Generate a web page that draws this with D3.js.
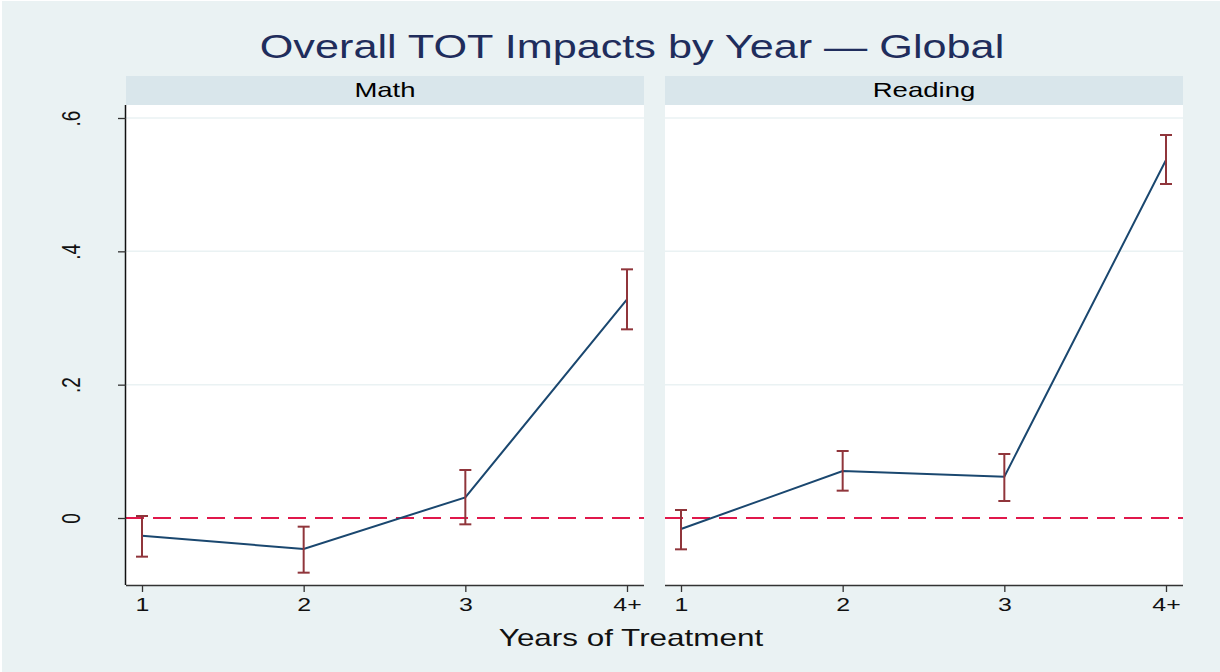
<!DOCTYPE html>
<html><head><meta charset="utf-8">
<script src="https://cdn.jsdelivr.net/npm/d3@7"></script>
<style>body{margin:0;background:#fff}svg{display:block}text{font-family:"Liberation Sans",Arial,sans-serif}</style>
</head><body><svg id="c" width="1220" height="672"></svg>
<script>
const categories = ["1","2","3","4+"];
const panels = ["Math","Reading"];
const mathEst = [-0.0265,-0.0465,0.031,0.328];
const mathLo  = [-0.058,-0.082,-0.0095,0.283];
const mathHi  = [0.003,-0.013,0.072,0.373];
const readEst = [-0.0165,0.0705,0.062,0.537];
const readLo  = [-0.047,0.041,0.0255,0.501];
const readHi  = [0.012,0.1005,0.096,0.5745];
const yTicks = [0,0.2,0.4,0.6];
const yTickLabels = ["0",".2",".4",".6"];
const title = "Overall TOT Impacts by Year — Global";
const xTitle = "Years of Treatment";

const SX = 1.31; // horizontal stretch of the original graphic
const stretch = (cx,cy)=>`translate(${cx},${cy}) scale(${SX},1) translate(${-cx},${-cy})`;

const series = [
  {name:panels[0], est:mathEst, lo:mathLo, hi:mathHi},
  {name:panels[1], est:readEst, lo:readLo, hi:readHi}
];

const svg = d3.select("#c");
svg.append("rect").attr("x",2).attr("y",1).attr("width",1218).attr("height",671).attr("fill","#eaf2f3");

svg.append("text").attr("x",632).attr("y",58).attr("text-anchor","middle")
  .attr("font-size",33).attr("fill","#1f2d5c").attr("transform",stretch(632,58)).text(title);

const panelX = [126,665], panelW = 518;
const plotTop = 105, plotBottom = 585;
const y = d3.scaleLinear().domain([-0.1005,0.6195]).range([plotBottom,plotTop]);

series.forEach((s,i)=>{
  const x0 = panelX[i];
  const g = svg.append("g");
  g.append("rect").attr("x",x0).attr("y",76).attr("width",panelW).attr("height",29).attr("fill","#d9e6eb");
  const cx = x0+panelW/2;
  g.append("text").attr("x",cx).attr("y",97).attr("text-anchor","middle").attr("font-size",21)
    .attr("fill","#000").attr("transform",stretch(cx,97)).text(s.name);
  g.append("rect").attr("x",x0).attr("y",plotTop).attr("width",panelW).attr("height",plotBottom-plotTop).attr("fill","#fff");
  const x = d3.scalePoint().domain(categories).range([x0+16,x0+panelW-17]);
  g.selectAll("line.grid").data(yTicks.filter(t=>t>0)).join("line")
    .attr("x1",x0).attr("x2",x0+panelW).attr("y1",d=>y(d)).attr("y2",d=>y(d))
    .attr("stroke","#eaf2f3").attr("stroke-width",1.5);
  g.append("line").attr("x1",x0).attr("x2",x0+panelW).attr("y1",y(0)).attr("y2",y(0))
    .attr("stroke","#e0184b").attr("stroke-width",2).attr("stroke-dasharray","18,9");
  const xa = g.append("g").attr("transform",`translate(0,${plotBottom})`)
    .call(d3.axisBottom(x).tickSize(7).tickPadding(6).tickSizeOuter(0));
  xa.select(".domain").attr("d",`M${x0},0.5H${x0+panelW}`).attr("stroke","#333").attr("stroke-width",1.5);
  xa.selectAll(".tick line").attr("stroke","#333").attr("stroke-width",1.3);
  xa.selectAll(".tick text").attr("font-size",19).attr("fill","#111")
    .attr("font-family","Liberation Sans, Arial, sans-serif")
    .attr("transform",`scale(${SX},1)`);
  if(i===0){
    const ya = g.append("g").attr("transform",`translate(${x0},0)`)
      .call(d3.axisLeft(y).tickValues(yTicks).tickFormat((d,j)=>yTickLabels[j]).tickSize(8).tickPadding(0).tickSizeOuter(0));
    ya.select(".domain").attr("d",`M-0.5,${plotTop}V${plotBottom}`).attr("stroke","#111").attr("stroke-width",1.5);
    ya.selectAll(".tick line").attr("stroke","#333").attr("stroke-width",1.3);
    ya.selectAll(".tick text").attr("font-size",19).attr("fill","#111")
      .attr("font-family","Liberation Sans, Arial, sans-serif")
      .attr("text-anchor","middle").attr("x",0).attr("dy","0.36em")
      .attr("transform",`translate(-55,0) scale(${SX},1) rotate(-90)`);
  }
  const pts = categories.map((c,j)=>[x(c), y(s.est[j])]);
  g.append("path").attr("d",d3.line()(pts)).attr("fill","none").attr("stroke","#1a476f").attr("stroke-width",2);
  const eb = g.selectAll("g.eb").data(categories).join("g");
  eb.append("line").attr("x1",c=>x(c)).attr("x2",c=>x(c))
    .attr("y1",(c,j)=>y(s.lo[j])).attr("y2",(c,j)=>y(s.hi[j]))
    .attr("stroke","#90353b").attr("stroke-width",2);
  ["lo","hi"].forEach(k=>{
    eb.append("line").attr("x1",c=>x(c)-6).attr("x2",c=>x(c)+6)
      .attr("y1",(c,j)=>y(s[k][j])).attr("y2",(c,j)=>y(s[k][j]))
      .attr("stroke","#90353b").attr("stroke-width",2);
  });
});

svg.append("text").attr("x",631).attr("y",646).attr("text-anchor","middle")
  .attr("font-size",24).attr("fill","#111").attr("transform",stretch(631,646)).text(xTitle);
</script></body></html>
